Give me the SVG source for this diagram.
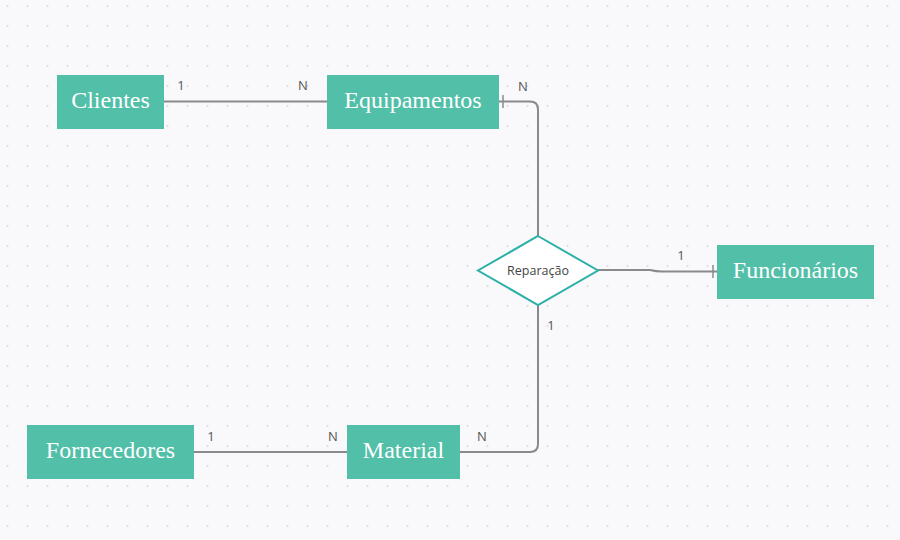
<svg xmlns="http://www.w3.org/2000/svg" width="900" height="540" viewBox="0 0 900 540">
<defs>
<pattern id="dots" x="0" y="0" width="20" height="20" patternUnits="userSpaceOnUse">
<circle cx="7.5" cy="6" r="1" fill="#d8d9de"/>
</pattern>
</defs>
<style>
.ent rect{fill:#52bfa8;}
.ent text{font-family:"Liberation Serif",serif;font-size:24px;fill:#ffffff;text-anchor:middle;}
.conn path{fill:none;stroke:#8a8a8c;stroke-width:2;}
.conn .tick{stroke:#8a8a8c;stroke-width:1.5;}
.lbl{font-family:"Open Sans","Liberation Sans",sans-serif;font-size:13px;fill:#555;text-anchor:middle;}
</style>
<rect width="900" height="540" fill="#f9f9fb"/>
<rect width="900" height="540" fill="url(#dots)"/>
<g id="connectors" class="conn">
<path d="M163,101.5 H327"/>
<path d="M499,101.5 H530 Q538,101.5 538,109.5 V236"/>
<path d="M598,270 H650 Q656,271.5 662,271.5 H717"/>
<path d="M538,305 V444 Q538,452 530,452 H460"/>
<path d="M194,452 H347"/>
<line class="tick" x1="503" y1="95" x2="503" y2="108"/>
<line class="tick" x1="713" y1="265" x2="713" y2="278"/>
</g>
<g id="labels">
<text class="lbl" x="181" y="90">1</text>
<text class="lbl" x="303" y="90">N</text>
<text class="lbl" x="523" y="91">N</text>
<text class="lbl" x="681" y="260">1</text>
<text class="lbl" x="551" y="330">1</text>
<text class="lbl" x="211" y="441">1</text>
<text class="lbl" x="333" y="441">N</text>
<text class="lbl" x="482" y="441">N</text>
</g>
<g id="clientes" class="ent"><rect x="57" y="75" width="107" height="54"/><text x="110.5" y="107.5">Clientes</text></g>
<g id="equipamentos" class="ent"><rect x="327" y="75" width="172" height="54"/><text x="413" y="107.5">Equipamentos</text></g>
<g id="funcionarios" class="ent"><rect x="717" y="245" width="157" height="54"/><text x="795.5" y="277.5">Funcionários</text></g>
<g id="fornecedores" class="ent"><rect x="27" y="425" width="167" height="54"/><text x="110.5" y="457.5">Fornecedores</text></g>
<g id="material" class="ent"><rect x="347" y="425" width="113" height="54"/><text x="403.5" y="457.5">Material</text></g>
<g id="reparacao">
<polygon points="538,236 598,270.5 538,305 478,270.5" fill="#ffffff" stroke="#2bb0a8" stroke-width="2"/>
<text x="538" y="275" style="font-family:'Open Sans','Liberation Sans',sans-serif;font-size:12.5px;fill:#444;text-anchor:middle;">Reparação</text>
</g>
</svg>
